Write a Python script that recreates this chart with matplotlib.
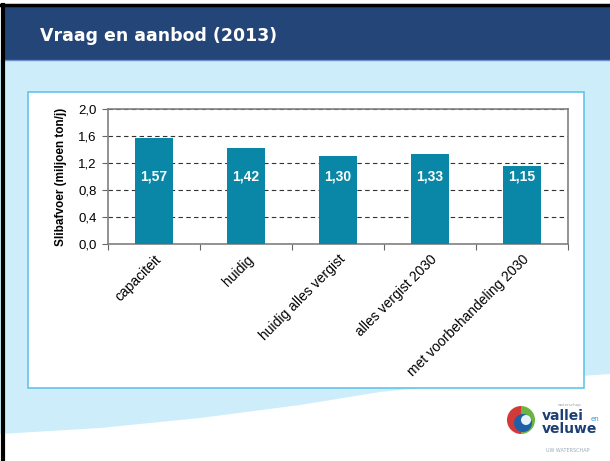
import numpy as np
import matplotlib.pyplot as plt
from matplotlib.patches import Rectangle, Polygon, Circle, Wedge

# Data
categories = ['capaciteit', 'huidig', 'huidig alles vergist',
              'alles vergist 2030', 'met voorbehandeling 2030']
values = [1.57, 1.42, 1.30, 1.33, 1.15]
value_labels = ['1,57', '1,42', '1,30', '1,33', '1,15']
yticks = [0.0, 0.4, 0.8, 1.2, 1.6, 2.0]
ytick_labels = ['0,0', '0,4', '0,8', '1,2', '1,6', '2,0']

W, H = 610, 461
fig = plt.figure(figsize=(W / 100, H / 100), dpi=100)
fig.patch.set_facecolor('white')

# ----------------- slide background -------------------
bg = fig.add_axes([0, 0, 1, 1])
bg.set_xlim(0, W)
bg.set_ylim(H, 0)
bg.axis('off')

# light blue area with curved lower edge
xs = np.array([0, 100, 200, 300, 380, 450, 520, 580, 610])
ys = np.array([434, 428, 418, 405, 392, 385, 380, 376, 374])
poly = [(0, 60)] + list(zip(xs, ys)) + [(610, 60)]
bg.add_patch(Polygon(poly, closed=True, facecolor='#cdedfa', edgecolor='none'))

# header bar
bg.add_patch(Rectangle((4, 7), W, 53, facecolor='#234578', edgecolor='none'))
bg.plot([4, W], [60, 60], color='#6f8fcc', lw=1)
bg.text(40, 36, 'Vraag en aanbod (2013)', color='white', fontsize=12.5,
        fontweight='bold', family='DejaVu Sans', va='center', ha='left')

# black frame lines
bg.plot([0, W], [5.5, 5.5], color='black', lw=2.5)
bg.plot([3, 3], [5, H], color='black', lw=3)

# white chart box
bg.add_patch(Rectangle((28, 92), 556, 296, facecolor='white',
                       edgecolor='#62c3ec', lw=1.2))

# logo
bg.add_patch(Wedge((521, 420), 14, 90, 270, facecolor='#d23a3a', edgecolor='none'))
bg.add_patch(Wedge((521, 420), 14, -90, 90, facecolor='#6cb33f', edgecolor='none'))
bg.add_patch(Circle((523, 423), 9, facecolor='#1e5fa8', edgecolor='none'))
bg.add_patch(Circle((526, 420), 5, facecolor='#e8f4fb', edgecolor='none'))
bg.text(542, 416, 'vallei', color='#1d3f73', fontsize=10, fontweight='bold',
        family='DejaVu Sans', va='center', ha='left')
bg.text(542, 429, 'veluwe', color='#1d3f73', fontsize=10, fontweight='bold',
        family='DejaVu Sans', va='center', ha='left')
bg.text(591, 419, 'en', color='#2f9ad6', fontsize=5, va='center', ha='left')
bg.text(570, 405, 'waterschap', color='#9aa8b8', fontsize=3, va='center', ha='center')
bg.text(568, 450, 'UW WATERSCHAP', color='#9aa8b8', fontsize=3.5, va='center', ha='center')

# ----------------- chart -------------------
left, right, top, bottom = 108, 568, 109, 244
ax = fig.add_axes([left / W, 1 - bottom / H, (right - left) / W, (bottom - top) / H])
ax.set_facecolor('white')

x = np.arange(len(categories))
ax.bar(x, values, width=0.41, color='#0a87a6', zorder=3)
for xi, lab in zip(x, value_labels):
    ax.text(xi, 1.0, lab, color='white', fontsize=10, fontweight='bold',
            family='Liberation Sans', ha='center', va='center', zorder=4)

ax.set_xlim(-0.5, len(categories) - 0.5)
ax.set_ylim(0, 2.0)
ax.set_yticks(yticks)
ax.set_yticklabels(ytick_labels, family='Liberation Sans', fontsize=9.5)
ax.yaxis.grid(True, linestyle=(0, (4, 3)), color='#333333', lw=0.8, zorder=0)

ax.set_xticks(np.arange(-0.5, len(categories), 1.0))
ax.set_xticklabels([])
ax.set_xticks(x, minor=True)
ax.set_xticklabels(categories, minor=True, rotation=45, ha='right',
                   rotation_mode='anchor', family='Liberation Sans', fontsize=10)
ax.tick_params(axis='x', which='major', length=4, color='#666666')
ax.tick_params(axis='x', which='minor', length=0, pad=6)
ax.tick_params(axis='y', length=4, color='#666666', pad=4)

for s in ax.spines.values():
    s.set_color('#808080')
    s.set_linewidth(1.2)

ax.set_ylabel('Slibafvoer (miljoen ton/j)', family='Liberation Sans',
              fontsize=8.5, fontweight='bold', labelpad=8)

fig.savefig('out.png', dpi=100)
